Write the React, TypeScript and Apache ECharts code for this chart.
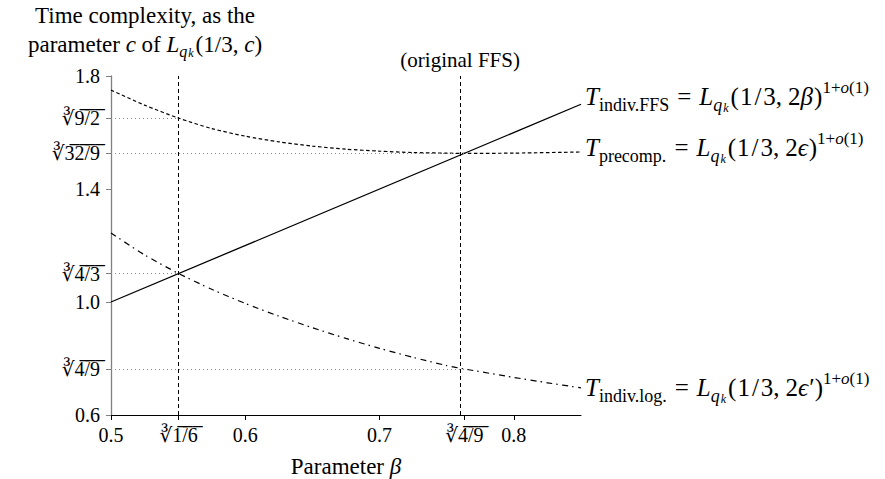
import React, { useEffect, useRef } from 'react';
import * as echarts from 'echarts';

// ---- data ----
const ffsBeta = [0.5, 0.85];
const ffsC = [1.0, 1.7];

const precompBeta = [0.5, 0.525, 0.5503, 0.575, 0.6, 0.625, 0.65, 0.675, 0.7, 0.725, 0.75, 0.7631, 0.8, 0.85];
const precompC = [1.75, 1.697, 1.651, 1.614, 1.587, 1.567, 1.552, 1.541, 1.534, 1.529, 1.527, 1.526, 1.527, 1.531];

const logBeta = [0.5, 0.525, 0.5503, 0.575, 0.6, 0.625, 0.65, 0.675, 0.7, 0.725, 0.75, 0.7631, 0.8, 0.825, 0.85];
const logC = [1.244, 1.167, 1.101, 1.045, 0.995, 0.95, 0.909, 0.871, 0.836, 0.804, 0.775, 0.763, 0.733, 0.714, 0.696];

const xPlainTicks = [0.5, 0.6, 0.7, 0.8];
const xRootTicks = [0.5503, 0.7631];
const xRootLabels = ['1/6', '4/9'];

const yPlainTicks = [0.6, 1.0, 1.4, 1.8];
const yRootTicks = [1.651, 1.5263, 1.1006, 0.7631];
const yRootLabels = ['9/2', '32/9', '4/3', '4/9'];

// dotted guides: [c value, beta where it ends]
const guideC = [1.651, 1.5263, 1.1006, 0.7631];
const guideBeta = [0.5503, 0.7631, 0.5503, 0.7631];

const markerBeta = [0.5503, 0.7631];

const FONT = '"Liberation Serif", "DejaVu Serif", serif';

const overline = (s: string) => s.split('').map((ch) => ch + '\u0305').join('');
const rootLabel = (s: string) => '\u221B' + overline(s);

const findIdx = (arr: number[], v: number) => arr.findIndex((a) => Math.abs(a - v) < 1e-6);

function mathRich(L: number, size = 23, sub = 16, sup = 16) {
  const base = { fontFamily: FONT, color: '#000' };
  return {
    n: { ...base, fontSize: size, lineHeight: L },
    lp: { ...base, fontSize: size, lineHeight: L, padding: [0, 1, 0, 0] },
    sl: { ...base, fontSize: size, lineHeight: L, padding: [0, 2, 0, 2] },
    cm: { ...base, fontSize: size, lineHeight: L, padding: [0, 6, 0, 0] },
    rp: { ...base, fontSize: size, lineHeight: L, padding: [0, 0, 0, 1] },
    i: { ...base, fontSize: size, fontStyle: 'italic', lineHeight: L },
    eq: { ...base, fontSize: size, lineHeight: L, padding: [0, 8, 0, 8] },
    sub: { ...base, fontSize: sub, verticalAlign: 'bottom', lineHeight: L - 18.8 },
    subi: { ...base, fontSize: sub, fontStyle: 'italic', verticalAlign: 'bottom', lineHeight: L - 18.8, padding: [0, 1, 0, 0] },
    subsup: { ...base, fontSize: 12, fontStyle: 'italic', verticalAlign: 'bottom', lineHeight: L - 13.5, padding: [0, 2, 0, 0] },
    sup: { ...base, fontSize: sup, verticalAlign: 'top', lineHeight: L - 11.2 },
    supi: { ...base, fontSize: sup, fontStyle: 'italic', verticalAlign: 'top', lineHeight: L - 11.2 },
  };
}

const Lqk = '{i|L}{subi|q}{subsup|k}';
const exp = '{sup|1+}{supi|o}{sup|(1)}';
const args = '{lp|(}{n|1}{sl|/}{n|3}{cm|,}{n|2}';
const ffsLabel = `{i|T}{sub|indiv.FFS}{eq|=}${Lqk}${args}{i|β}{rp|)}${exp}`;
const precompLabel = `{i|T}{sub|precomp.}{eq|=}${Lqk}${args}{i|ϵ}{rp|)}${exp}`;
const logLabel = `{i|T}{sub|indiv.log.}{eq|=}${Lqk}${args}{i|ϵ}{rp|′)}${exp}`;
const yName = `{n|Time complexity, as the}\n{n|parameter }{i|c}{n| of }${Lqk}{n|(1/3, }{i|c}{n|)}`;

const zip = (a: number[], b: number[]) => a.map((v, k) => [v, b[k]]);

export default function App() {
  const ref = useRef<HTMLDivElement>(null);
  useEffect(() => {
    const chart = echarts.init(ref.current!, null, { renderer: 'svg' });
    const endLabel = (text: string, dy: number) => ({
      show: true,
      formatter: () => text,
      distance: 4,
      offset: [0, dy],
      rich: mathRich(35, 25, 18, 17),
    });
    chart.setOption({
      animation: false,
      backgroundColor: '#fff',
      textStyle: { fontFamily: FONT },
      grid: { left: 111, right: 304, top: 76, bottom: 64, containLabel: false, outerBoundsMode: 'none' },
      xAxis: {
        type: 'value',
        min: 0.5,
        max: 0.85,
        name: '{n|Parameter }{i|β}',
        nameLocation: 'middle',
        nameGap: 34,
        nameTextStyle: { rich: mathRich(34) },
        splitLine: { show: false },
        axisLine: { lineStyle: { color: '#000', width: 1 } },
        axisTick: { customValues: [...xPlainTicks, ...xRootTicks], length: 5, lineStyle: { color: '#000' } },
        axisLabel: {
          customValues: [...xPlainTicks, ...xRootTicks],
          margin: 10,
          fontFamily: FONT,
          fontSize: 20,
          color: '#000',
          formatter: (v: number) => {
            const k = findIdx(xRootTicks, v);
            return k >= 0 ? rootLabel(xRootLabels[k]) : v.toFixed(1);
          },
        },
      },
      yAxis: {
        type: 'value',
        min: 0.6,
        max: 1.8,
        name: yName,
        nameLocation: 'end',
        nameGap: 17,
        nameTextStyle: { align: 'center', verticalAlign: 'bottom', padding: [0, 0, 0, 68], rich: mathRich(29) },
        splitLine: { show: false },
        axisLine: { lineStyle: { color: '#808080', width: 1.3 } },
        axisTick: { customValues: [...yPlainTicks, ...yRootTicks], length: 5, lineStyle: { color: '#808080' } },
        axisLabel: {
          customValues: [...yPlainTicks, ...yRootTicks],
          margin: 11,
          fontFamily: FONT,
          fontSize: 20,
          color: '#000',
          formatter: (v: number) => {
            const k = findIdx(yRootTicks, v);
            return k >= 0 ? rootLabel(yRootLabels[k]) : v.toFixed(1);
          },
        },
      },
      series: [
        {
          type: 'line',
          name: 'indiv.FFS',
          data: zip(ffsBeta, ffsC),
          symbol: 'none',
          lineStyle: { color: '#000', width: 1.3, type: 'solid' },
          endLabel: endLabel(ffsLabel, -8),
          markLine: {
            silent: true,
            symbol: 'none',
            animation: false,
            label: { show: false },
            data: [
              ...markerBeta.map((b, k) => ({
                xAxis: b,
                lineStyle: { color: '#000', width: 1, type: [4, 3] },
                label:
                  k === 1
                    ? { show: true, position: 'end', formatter: '(original FFS)', fontFamily: FONT, fontSize: 21, color: '#000', distance: 6 }
                    : { show: false },
              })),
              ...guideC.map((c, k) => [
                { coord: [0.5, c], lineStyle: { color: '#888', width: 1, type: [1, 3] } },
                { coord: [guideBeta[k], c] },
              ]),
            ],
          },
        },
        {
          type: 'line',
          name: 'precomp',
          data: zip(precompBeta, precompC),
          symbol: 'none',
          smooth: 0.25,
          lineStyle: { color: '#000', width: 1.2, type: [3.5, 2.5] },
          endLabel: endLabel(precompLabel, -4),
        },
        {
          type: 'line',
          name: 'indiv.log',
          data: zip(logBeta, logC),
          symbol: 'none',
          smooth: 0.25,
          lineStyle: { color: '#000', width: 1.2, type: [6, 4, 1.5, 4.5] },
          endLabel: endLabel(logLabel, 0),
        },
      ],
    });
    return () => chart.dispose();
  }, []);
  return <div ref={ref} style={{ position: 'absolute', left: 0, top: 0, width: 885, height: 479 }} />;
}
